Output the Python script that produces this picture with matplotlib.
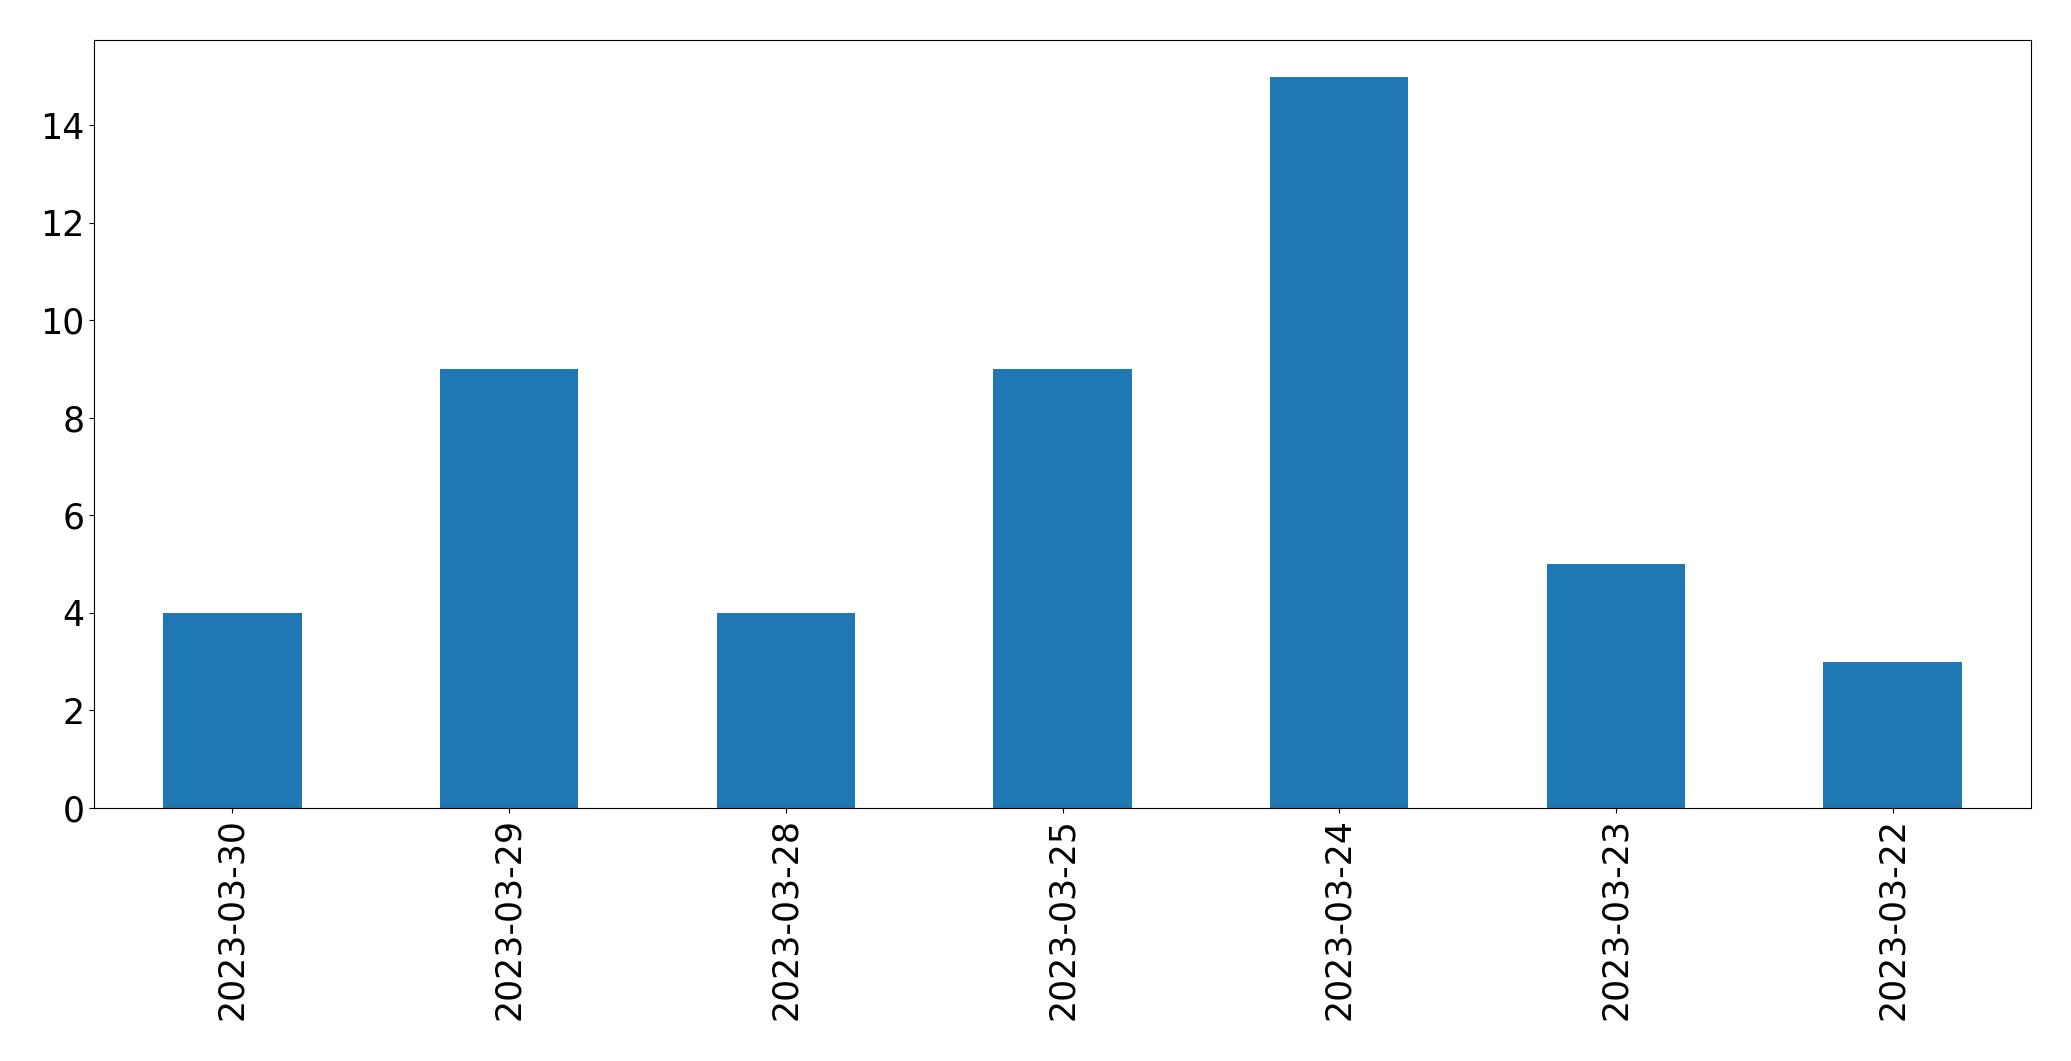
import matplotlib
matplotlib.use("Agg")
import matplotlib.pyplot as plt

dates = ['2023-03-30', '2023-03-29', '2023-03-28', '2023-03-25',
         '2023-03-24', '2023-03-23', '2023-03-22']
counts = [4, 9, 4, 9, 15, 5, 3]

fig = plt.figure(figsize=(20.71, 10.61), dpi=100)
ax = fig.add_axes([0.0454, 0.2385, 0.9353, 0.7238])

x = range(len(dates))
ax.bar(x, counts, width=0.5, color='#1f77b4')
ax.set_xlim(-0.5, len(dates) - 0.5)
ax.set_ylim(0, 15.75)
ax.set_xticks(list(x))
ax.set_xticklabels(dates, rotation=90)
ax.tick_params(labelsize=25)

fig.savefig('out.png', dpi=100)
